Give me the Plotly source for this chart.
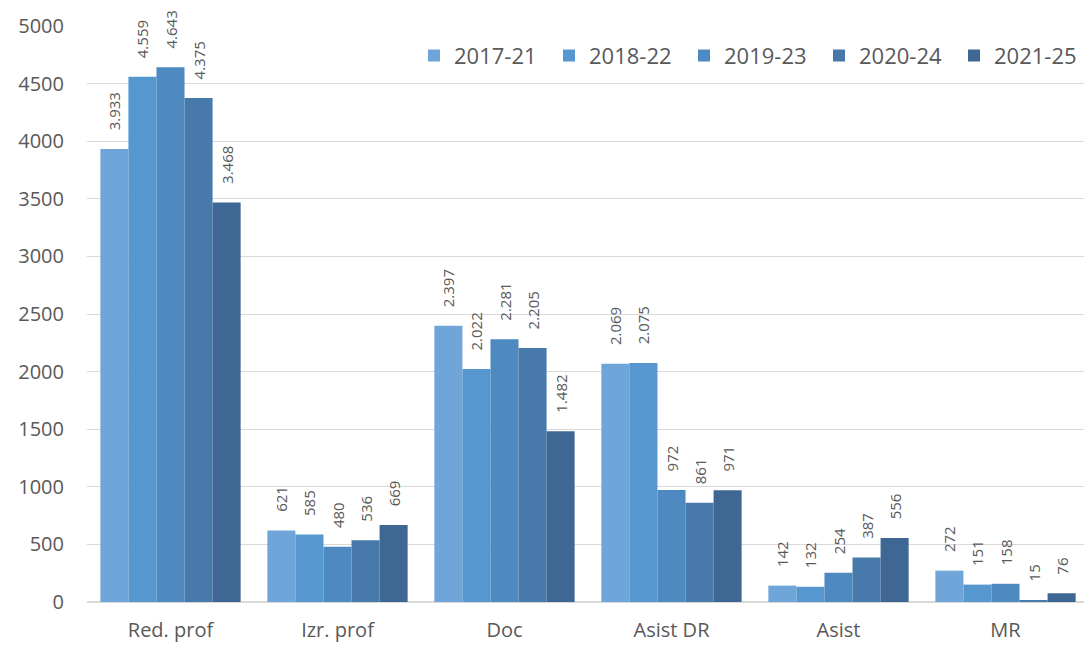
import plotly.graph_objects as go

# categories and series
categories = ["Red. prof", "Izr. prof", "Doc", "Asist DR", "Asist", "MR"]
periods    = ["2017-21", "2018-22", "2019-23", "2020-24", "2021-25"]

v_2017_21 = [3933, 621, 2397, 2069, 142, 272]
v_2018_22 = [4559, 585, 2022, 2075, 132, 151]
v_2019_23 = [4643, 480, 2281, 972, 254, 158]
v_2020_24 = [4375, 536, 2205, 861, 387, 15]
v_2021_25 = [3468, 669, 1482, 971, 556, 76]

series = [v_2017_21, v_2018_22, v_2019_23, v_2020_24, v_2021_25]
colors = ["#70a5d9", "#5797cf", "#4e89bf", "#477aaa", "#3e6793"]

fnt = "'Open Sans', sans-serif"
grey = "#595959"


def fmt(v):
  # dot as thousands separator, nbsp as the gap above the bar
  return "\u00a0" * 4 + f"{v:,}".replace(",", ".")


fig = go.Figure()
for name, vals, col in zip(periods, series, colors):
  fig.add_trace(go.Bar(
    x=categories,
    y=vals,
    name=name,
    marker=dict(color=col, line=dict(width=0)),
    text=[fmt(v) for v in vals],
    textposition="outside",
    textangle=-90,
    textfont=dict(family=fnt, size=15, color=grey),
    cliponaxis=False,
    constraintext="none",
  ))

# page body has an 8px margin, so the figure is shrunk by 8px
fig.update_layout(
  width=1084, height=638,
  barmode="group",
  bargap=0.16,
  bargroupgap=0,
  plot_bgcolor="white",
  paper_bgcolor="white",
  margin=dict(l=79, r=3, t=18, b=44),
  font=dict(family=fnt, color=grey, size=20),
  legend=dict(
    orientation="h",
    x=1.0, xanchor="right",
    y=0.985, yanchor="top",
    font=dict(size=22, color=grey),
    bgcolor="rgba(255,255,255,0)",
    itemwidth=30,
    entrywidth=90,
    traceorder="normal",
  ),
)
fig.update_yaxes(
  range=[0, 5000], dtick=500,
  showgrid=True, gridcolor="#d9d9d9", gridwidth=1,
  zeroline=True, zerolinecolor="#d9d9d9",
  tickfont=dict(size=20, color=grey),
  ticks="", ticklabelstandoff=22,
)
fig.update_xaxes(
  showline=True, linecolor="#d9d9d9",
  tickfont=dict(size=20, color=grey),
  ticks="", ticklabelstandoff=10,
)

fig.write_html("out.html")
